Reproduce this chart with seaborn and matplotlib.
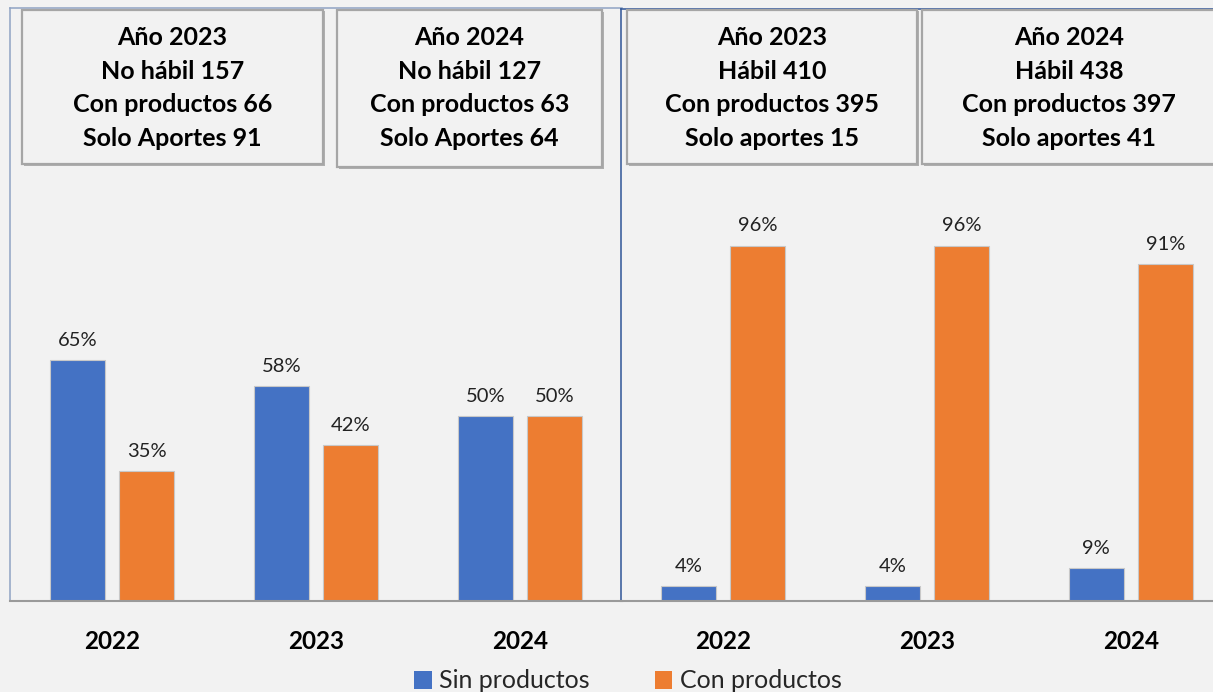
import matplotlib
matplotlib.use("Agg")
import matplotlib.pyplot as plt
from matplotlib.patches import Rectangle, Patch
import seaborn as sns
import pandas as pd

# ── Data ────────────────────────────────────────────────
years = ["2022", "2023", "2024"]
series = ["Sin productos", "Con productos"]
no_habil_sin = [65, 58, 50]
no_habil_con = [35, 42, 50]
habil_sin = [4, 4, 9]
habil_con = [96, 96, 91]

box_texts = [
    "Año 2023\nNo hábil 157\nCon productos 66\nSolo Aportes 91",
    "Año 2024\nNo hábil 127\nCon productos 63\nSolo Aportes 64",
    "Año 2023\nHábil 410\nCon productos 395\nSolo aportes 15",
    "Año 2024\nHábil 438\nCon productos 397\nSolo aportes 41",
]

colors = {"Sin productos": "#4472c4", "Con productos": "#ed7d31"}
bg = "#f2f2f2"


def to_frame(sin, con):
    return pd.DataFrame({
        "year": years * 2,
        "serie": [series[0]] * 3 + [series[1]] * 3,
        "pct": sin + con,
    })


sns.set_theme(style="white")
plt.rcParams["font.family"] = ["Lato", "DejaVu Sans"]

W, H = 1213, 692
fig = plt.figure(figsize=(W / 100, H / 100), dpi=100, facecolor=bg)


def px_axes(x0, x1, ytop, ybot):
    return fig.add_axes([x0 / W, 1 - ybot / H, (x1 - x0) / W, (ybot - ytop) / H])


ax1 = px_axes(10, 622, 8, 601)
ax2 = px_axes(621, 1233, 8.5, 601)

panels = [
    (ax1, to_frame(no_habil_sin, no_habil_con), "#8fa3c4"),
    (ax2, to_frame(habil_sin, habil_con), "#2f5597"),
]

for ax, df, frame_col in panels:
    sns.barplot(data=df, x="year", y="pct", hue="serie", palette=colors,
                saturation=1, width=0.68, gap=0.2, edgecolor="#c8c8c8",
                linewidth=0.8, legend=False, ax=ax)
    ax.set_facecolor("none")
    ax.set_xlim(-0.5, 2.5)
    ax.set_ylim(0, 160)
    ax.set_xlabel("")
    ax.set_ylabel("")
    ax.set_yticks([])
    ax.tick_params(axis="x", length=0, pad=21)
    for lab in ax.get_xticklabels():
        lab.set_fontsize(17.5)
        lab.set_fontweight("bold")
        lab.set_color("black")
    for c in ax.containers:
        ax.bar_label(c, fmt="%d%%", padding=8, fontsize=14.5, color="#222222")
    ax.spines["right"].set_visible(False)
    for s in ["left", "top"]:
        ax.spines[s].set_color(frame_col)
        ax.spines[s].set_linewidth(1.1)
    ax.spines["bottom"].set_color("#9a9a9a")
    ax.spines["bottom"].set_linewidth(1.5)

# ── Info boxes ────────────────────────────────────────────
boxes = [(22, 323, 10, 164), (337, 602, 10, 167), (627, 917, 10, 164), (922, 1216, 10, 164)]
for (x0, x1, y0, y1), txt in zip(boxes, box_texts):
    fig.patches.append(Rectangle((x0 / W + 1.5 / W, 1 - y1 / H - 1.5 / H), (x1 - x0) / W, (y1 - y0) / H,
                                 transform=fig.transFigure, facecolor="#b0b0b0",
                                 edgecolor="none", zorder=1))
    fig.patches.append(Rectangle((x0 / W, 1 - y1 / H), (x1 - x0) / W, (y1 - y0) / H,
                                 transform=fig.transFigure, facecolor=bg,
                                 edgecolor="#a6a6a6", linewidth=1.6, zorder=2))
    fig.text((x0 + x1) / 2 / W, 1 - 88 / H, txt, ha="center", va="center",
             fontsize=18, fontweight="bold", color="black", linespacing=1.55, zorder=3)

# ── Legend ────────────────────────────────────────────────
handles = [Patch(facecolor=colors[s], edgecolor="none", label=s) for s in series]
fig.legend(handles=handles, loc="center", bbox_to_anchor=(628 / W, 1 - 681 / H),
           ncol=2, frameon=False, fontsize=18, handlelength=0.7, handleheight=0.7,
           handletextpad=0.3, columnspacing=2.6)

fig.savefig("out.png", dpi=100, facecolor=bg)
